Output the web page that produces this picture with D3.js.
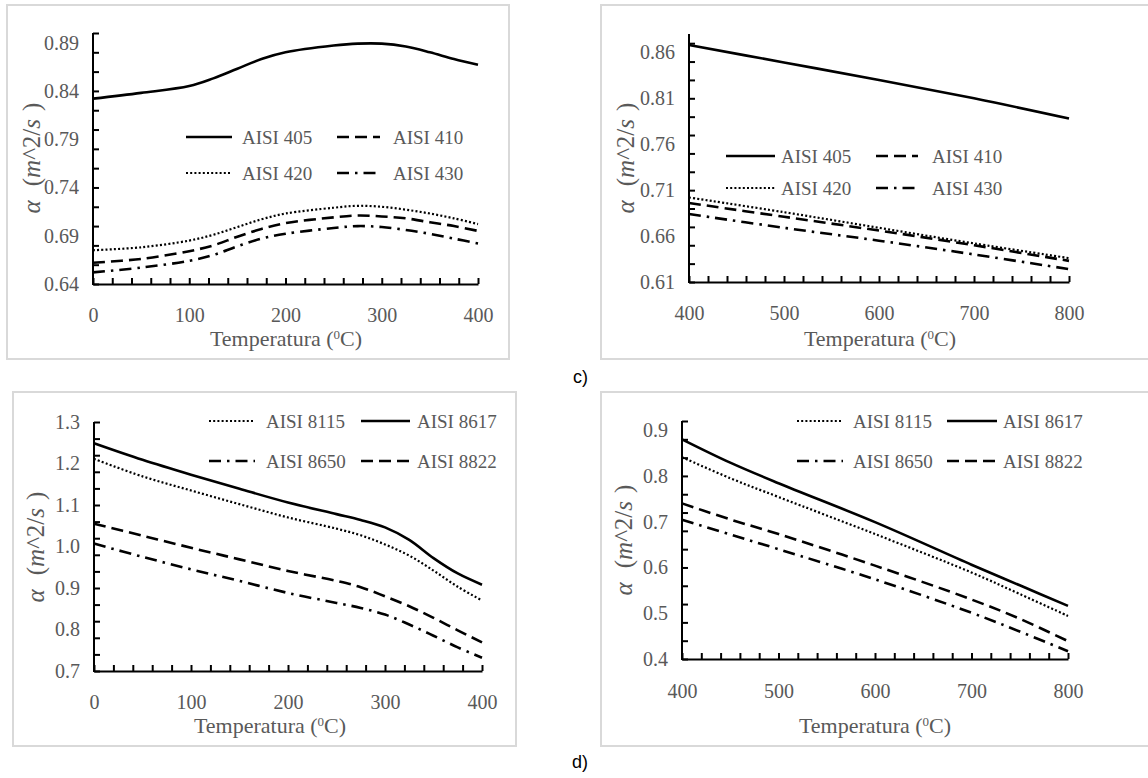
<!DOCTYPE html>
<html>
<head>
<meta charset="utf-8">
<script src="https://cdn.jsdelivr.net/npm/d3@7"></script>
<style>
  body { margin: 0; background: #fff; }
  svg { display: block; }
</style>
</head>
<body>
<svg id="chart" width="1148" height="778"></svg>
<script>
// ---- data ----
// top row: AISI 4xx
const tempA = [0, 50, 100, 125, 150, 175, 200, 250, 275, 300, 325, 350, 375, 400];
const aisi405A = [0.832, 0.838, 0.845, 0.853, 0.863, 0.873, 0.880, 0.887, 0.889, 0.889, 0.886, 0.880, 0.873, 0.867];
const aisi410A = [0.662, 0.666, 0.674, 0.680, 0.689, 0.697, 0.703, 0.709, 0.711, 0.710, 0.708, 0.704, 0.700, 0.695];
const aisi420A = [0.675, 0.678, 0.685, 0.691, 0.699, 0.707, 0.713, 0.719, 0.721, 0.720, 0.717, 0.713, 0.708, 0.702];
const aisi430A = [0.652, 0.657, 0.664, 0.670, 0.679, 0.687, 0.692, 0.698, 0.700, 0.699, 0.696, 0.692, 0.687, 0.682];

const tempB = [400, 500, 600, 700, 800];
const aisi405B = [0.868, 0.849, 0.830, 0.810, 0.788];
const aisi410B = [0.696, 0.681, 0.666, 0.650, 0.633];
const aisi420B = [0.702, 0.686, 0.669, 0.652, 0.636];
const aisi430B = [0.684, 0.669, 0.655, 0.640, 0.624];

// bottom row: AISI 8xxx
const tempC = [0, 50, 100, 150, 200, 250, 275, 300, 325, 350, 375, 400];
const aisi8115C = [1.211, 1.169, 1.135, 1.102, 1.070, 1.043, 1.027, 1.005, 0.978, 0.942, 0.903, 0.870];
const aisi8617C = [1.249, 1.209, 1.173, 1.139, 1.106, 1.078, 1.064, 1.046, 1.016, 0.972, 0.935, 0.908];
const aisi8650C = [1.007, 0.975, 0.945, 0.917, 0.888, 0.864, 0.852, 0.836, 0.812, 0.785, 0.757, 0.732];
const aisi8822C = [1.055, 1.026, 0.997, 0.969, 0.941, 0.917, 0.902, 0.880, 0.856, 0.828, 0.798, 0.769];

const tempD = [400, 450, 500, 600, 700, 750, 800];
const aisi8115D = [0.841, 0.795, 0.754, 0.673, 0.589, 0.542, 0.494];
const aisi8617D = [0.880, 0.829, 0.784, 0.699, 0.606, 0.561, 0.516];
const aisi8650D = [0.704, 0.672, 0.640, 0.574, 0.501, 0.460, 0.417];
const aisi8822D = [0.740, 0.705, 0.673, 0.604, 0.530, 0.488, 0.439];

// axis ticks
const xLabelsLow = [0, 100, 200, 300, 400];
const xLabelsHigh = [400, 500, 600, 700, 800];
const yLabelsA = [0.64, 0.69, 0.74, 0.79, 0.84, 0.89];
const yLabelsB = [0.61, 0.66, 0.71, 0.76, 0.81, 0.86];
const yLabelsC = [0.7, 0.8, 0.9, 1.0, 1.1, 1.2, 1.3];
const yLabelsD = [0.4, 0.5, 0.6, 0.7, 0.8, 0.9];

const serif = '"Liberation Serif", "DejaVu Serif", serif',
	labelGrey = '#595959';

// line styles
const styles = {
	solid: { dash: null, width: 2.6 },
	dashed: { dash: "12,6", width: 2.6 },
	dotted: { dash: "2,2.2", width: 2.2 },
	dashdot: { dash: "12,6,2.5,6", width: 2.6 }
};

const svg = d3.select('#chart');

const panels = [
	{
		frame: [7, 5, 509, 359], x0: 93, x1: 478, yTop: 33, yBot: 284,
		xDom: [0, 400], xStep: 20, xLabels: xLabelsLow, xLabelY: 315,
		yDom: [0.64, 0.90], yStep: 0.02, yLabels: yLabelsA, yFmt: ".2f",
		titleX: 286, titleY: 338, ylabX: 31, ylabY: 158,
		series: [
			{ name: "AISI 405", x: tempA, y: aisi405A, style: "solid" },
			{ name: "AISI 410", x: tempA, y: aisi410A, style: "dashed" },
			{ name: "AISI 420", x: tempA, y: aisi420A, style: "dotted" },
			{ name: "AISI 430", x: tempA, y: aisi430A, style: "dashdot" }
		],
		legRows: [137, 173], legCols: [[186, 232, 242], [337, 380, 393]]
	},
	{
		frame: [601, 5, 1150, 359], x0: 689, x1: 1069, yTop: 34, yBot: 282,
		xDom: [400, 800], xStep: 20, xLabels: xLabelsHigh, xLabelY: 313,
		yDom: [0.61, 0.88], yStep: 0.02, yLabels: yLabelsB, yFmt: ".2f",
		titleX: 880, titleY: 338, ylabX: 625, ylabY: 158,
		series: [
			{ name: "AISI 405", x: tempB, y: aisi405B, style: "solid" },
			{ name: "AISI 410", x: tempB, y: aisi410B, style: "dashed" },
			{ name: "AISI 420", x: tempB, y: aisi420B, style: "dotted" },
			{ name: "AISI 430", x: tempB, y: aisi430B, style: "dashdot" }
		],
		legRows: [156, 188], legCols: [[726, 775, 781], [876, 918, 932]]
	},
	{
		frame: [13, 392, 516, 746], x0: 94, x1: 482, yTop: 422, yBot: 671,
		xDom: [0, 400], xStep: 20, xLabels: xLabelsLow, xLabelY: 702,
		yDom: [0.7, 1.3], yStep: 0.04, yLabels: yLabelsC, yFmt: ".1f",
		titleX: 270, titleY: 725, ylabX: 35, ylabY: 547,
		series: [
			{ name: "AISI 8115", x: tempC, y: aisi8115C, style: "dotted" },
			{ name: "AISI 8617", x: tempC, y: aisi8617C, style: "solid" },
			{ name: "AISI 8650", x: tempC, y: aisi8650C, style: "dashdot" },
			{ name: "AISI 8822", x: tempC, y: aisi8822C, style: "dashed" }
		],
		legRows: [421, 461], legCols: [[209, 255, 266], [361, 410, 417]]
	},
	{
		frame: [601, 392, 1150, 746], x0: 682, x1: 1068, yTop: 421, yBot: 659,
		xDom: [400, 800], xStep: 20, xLabels: xLabelsHigh, xLabelY: 691,
		yDom: [0.4, 0.92], yStep: 0.04, yLabels: yLabelsD, yFmt: ".1f",
		titleX: 875, titleY: 725, ylabX: 623, ylabY: 540,
		series: [
			{ name: "AISI 8115", x: tempD, y: aisi8115D, style: "dotted" },
			{ name: "AISI 8617", x: tempD, y: aisi8617D, style: "solid" },
			{ name: "AISI 8650", x: tempD, y: aisi8650D, style: "dashdot" },
			{ name: "AISI 8822", x: tempD, y: aisi8822D, style: "dashed" }
		],
		legRows: [421, 461], legCols: [[797, 843, 853], [947, 997, 1003]]
	}
];

panels.forEach(p => drawPanel(p));

// panel letters
svg.append('text').attr('x', 573).attr('y', 383)
	.style('font-family', '"Liberation Sans", Arial, sans-serif').style('font-size', '18px')
	.text('c)');
svg.append('text').attr('x', 572).attr('y', 768)
	.style('font-family', '"Liberation Sans", Arial, sans-serif').style('font-size', '18px')
	.text('d)');

function styleTickText(a) {
	a.selectAll('.tick text')
		.style('font-family', serif)
		.style('font-size', '20px')
		.style('fill', labelGrey);
}

function drawPanel(p) {
	let [fx0, fy0, fx1, fy1] = p.frame;

	svg.append('rect')
		.attr('x', fx0).attr('y', fy0)
		.attr('width', fx1 - fx0).attr('height', fy1 - fy0)
		.attr('fill', 'white')
		.attr('stroke', '#d9d9d9')
		.attr('stroke-width', 2);

	let x = d3.scaleLinear().domain(p.xDom).range([p.x0, p.x1]),
		y = d3.scaleLinear().domain(p.yDom).range([p.yBot, p.yTop]);

	let xMinor = d3.range(p.xDom[0], p.xDom[1] + 0.001, p.xStep),
		yMinor = d3.range(p.yDom[0], p.yDom[1] + 0.0001, p.yStep);

	let g = svg.append('g');

	// curves
	let line = d3.line()
		.x(d => x(d[0]))
		.y(d => y(d[1]))
		.curve(d3.curveCatmullRom.alpha(0.5));

	p.series.forEach(s => {
		let st = styles[s.style];
		g.append('path')
			.datum(s.x.map((t, i) => [t, s.y[i]]))
			.attr('d', line)
			.attr('fill', 'none')
			.attr('stroke', '#000')
			.attr('stroke-width', st.width)
			.attr('stroke-dasharray', st.dash);
	});

	// y axis: inward minor ticks, then labels
	g.append('g')
		.attr('transform', `translate(${p.x0},0)`)
		.call(d3.axisLeft(y).tickValues(yMinor).tickSize(-6).tickSizeOuter(0).tickFormat(''))
		.call(a => a.select('.domain').attr('stroke-width', 2).attr('d', `M0,${p.yBot + 1}V${p.yTop}`))
		.call(a => a.selectAll('.tick line').attr('stroke-width', 2));

	g.append('g')
		.attr('transform', `translate(${p.x0},0)`)
		.call(d3.axisLeft(y).tickValues(p.yLabels).tickSize(0).tickPadding(14).tickFormat(d3.format(p.yFmt)))
		.call(a => a.select('.domain').remove())
		.call(styleTickText);

	// x axis
	g.append('g')
		.attr('transform', `translate(0,${p.yBot})`)
		.call(d3.axisBottom(x).tickValues(xMinor).tickSize(-6).tickSizeOuter(0).tickFormat(''))
		.call(a => a.select('.domain').attr('stroke-width', 2))
		.call(a => a.selectAll('.tick line').attr('stroke-width', 2));

	g.append('g')
		.attr('transform', `translate(0,${p.xLabelY})`)
		.call(d3.axisBottom(x).tickValues(p.xLabels).tickSize(0).tickPadding(0))
		.call(a => a.select('.domain').remove())
		.call(styleTickText)
		.call(a => a.selectAll('.tick text').attr('dy', '0.35em'));

	// axis titles
	let title = g.append('text')
		.attr('x', p.titleX).attr('y', p.titleY)
		.attr('dy', '0.35em')
		.attr('text-anchor', 'middle')
		.style('font-family', serif)
		.style('font-size', '22px')
		.style('fill', labelGrey);
	title.append('tspan').text('Temperatura (');
	title.append('tspan').attr('dy', -7).style('font-size', '13px').text('0');
	title.append('tspan').attr('dy', 7).text('C)');

	let ylab = g.append('text')
		.attr('transform', `translate(${p.ylabX},${p.ylabY}) rotate(-90)`)
		.attr('text-anchor', 'middle')
		.attr('dy', '0.35em')
		.style('font-family', serif)
		.style('font-size', '25px')
		.style('font-style', 'italic')
		.style('fill', labelGrey);
	ylab.append('tspan').text('α');
	ylab.append('tspan').attr('dx', 14).style('font-style', 'normal').text('(');
	ylab.append('tspan').text('m');
	ylab.append('tspan').style('font-style', 'normal').text('^2/');
	ylab.append('tspan').text('s');
	ylab.append('tspan').attr('dx', 8).style('font-style', 'normal').text(')');

	// legend, two columns by two rows
	p.series.forEach((s, i) => {
		let row = p.legRows[Math.floor(i / 2)],
			col = p.legCols[i % 2],
			st = styles[s.style];
		g.append('line')
			.attr('x1', col[0]).attr('x2', col[1])
			.attr('y1', row).attr('y2', row)
			.attr('stroke', '#000')
			.attr('stroke-width', st.width)
			.attr('stroke-dasharray', st.dash);
		g.append('text')
			.attr('x', col[2]).attr('y', row)
			.attr('dy', '0.35em')
			.style('font-family', serif)
			.style('font-size', '19px')
			.style('fill', labelGrey)
			.text(s.name);
	});
}
</script>
</body>
</html>
